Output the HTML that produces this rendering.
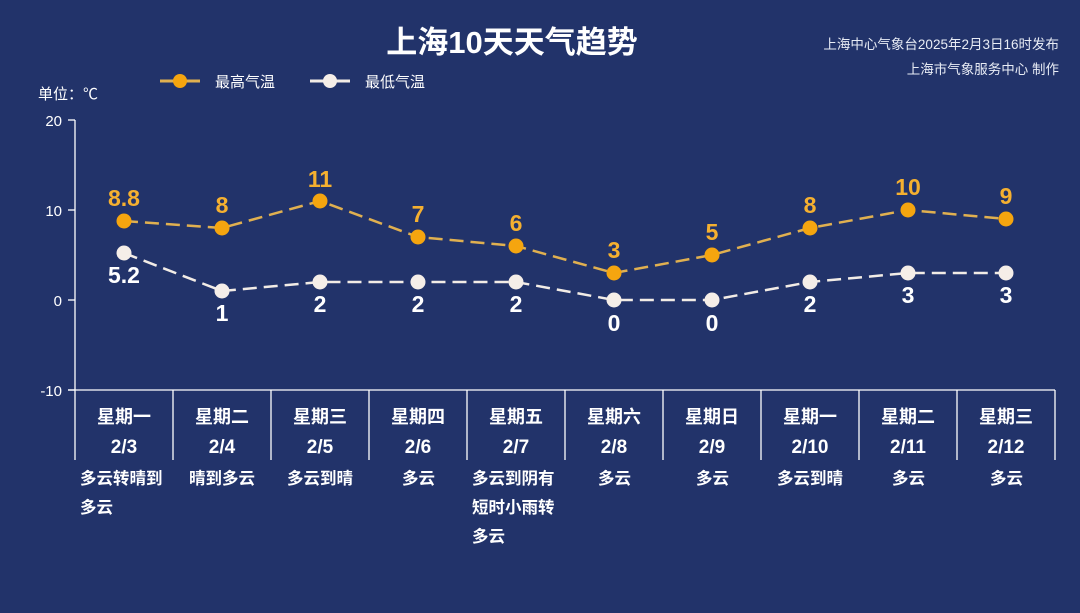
<!DOCTYPE html>
<html><head><meta charset="utf-8"><style>
html,body{margin:0;padding:0;background:#22336a;}
svg{display:block;font-family:"Liberation Sans","Noto Sans CJK SC",sans-serif;}
</style></head><body>
<svg width="1080" height="613" viewBox="0 0 1080 613">
<rect width="1080" height="613" fill="#22336a"/>
<text x="512" y="53" text-anchor="middle" fill="#fff" font-size="31" font-weight="bold">上海10天天气趋势</text>
<text x="1059" y="49" text-anchor="end" fill="#e8ecf5" font-size="13.5">上海中心气象台2025年2月3日16时发布</text>
<text x="1059" y="74" text-anchor="end" fill="#e8ecf5" font-size="13.5">上海市气象服务中心 制作</text>
<line x1="160" y1="81" x2="200" y2="81" stroke="#e0b050" stroke-width="3"/>
<circle cx="180" cy="81" r="7" fill="#f5a50f"/>
<text x="215" y="87" fill="#fff" font-size="15">最高气温</text>
<line x1="310" y1="81" x2="350" y2="81" stroke="#f2ece6" stroke-width="3"/>
<circle cx="330" cy="81" r="7" fill="#f5eee8"/>
<text x="365" y="87" fill="#fff" font-size="15">最低气温</text>
<text x="38" y="99" fill="#fff" font-size="15">单位：℃</text>
<g stroke="#fff" stroke-width="1.3">
<line x1="75" y1="120" x2="75" y2="390"/>
<line x1="68" y1="120" x2="75" y2="120"/><line x1="68" y1="210" x2="75" y2="210"/>
<line x1="68" y1="300" x2="75" y2="300"/><line x1="68" y1="390" x2="75" y2="390"/>
<line x1="68" y1="390" x2="1055" y2="390"/>
<line x1="75" y1="390" x2="75" y2="460"/><line x1="173" y1="390" x2="173" y2="460"/>
<line x1="271" y1="390" x2="271" y2="460"/><line x1="369" y1="390" x2="369" y2="460"/>
<line x1="467" y1="390" x2="467" y2="460"/><line x1="565" y1="390" x2="565" y2="460"/>
<line x1="663" y1="390" x2="663" y2="460"/><line x1="761" y1="390" x2="761" y2="460"/>
<line x1="859" y1="390" x2="859" y2="460"/><line x1="957" y1="390" x2="957" y2="460"/>
<line x1="1055" y1="390" x2="1055" y2="460"/>
</g>
<g fill="#fff" font-size="15" text-anchor="end">
<text x="62" y="126">20</text><text x="62" y="216">10</text><text x="62" y="306">0</text><text x="62" y="396">-10</text>
</g>
<polyline points="124,221 222,228 320,201 418,237 516,246 614,273 712,255 810,228 908,210 1006,219" fill="none" stroke="#e0b050" stroke-width="2.5" stroke-dasharray="14,7"/>
<polyline points="124,253 222,291 320,282 418,282 516,282 614,300 712,300 810,282 908,273 1006,273" fill="none" stroke="#f2ece6" stroke-width="2.5" stroke-dasharray="14,7"/>
<g fill="#f5a50f">
<circle cx="124" cy="221" r="7.5"/><circle cx="222" cy="228" r="7.5"/><circle cx="320" cy="201" r="7.5"/><circle cx="418" cy="237" r="7.5"/><circle cx="516" cy="246" r="7.5"/><circle cx="614" cy="273" r="7.5"/><circle cx="712" cy="255" r="7.5"/><circle cx="810" cy="228" r="7.5"/><circle cx="908" cy="210" r="7.5"/><circle cx="1006" cy="219" r="7.5"/>
</g>
<g fill="#f5eee8">
<circle cx="124" cy="253" r="7.5"/><circle cx="222" cy="291" r="7.5"/><circle cx="320" cy="282" r="7.5"/><circle cx="418" cy="282" r="7.5"/><circle cx="516" cy="282" r="7.5"/><circle cx="614" cy="300" r="7.5"/><circle cx="712" cy="300" r="7.5"/><circle cx="810" cy="282" r="7.5"/><circle cx="908" cy="273" r="7.5"/><circle cx="1006" cy="273" r="7.5"/>
</g>
<g fill="#f5b030" font-size="23" font-weight="bold" text-anchor="middle">
<text x="124" y="206">8.8</text><text x="222" y="213">8</text><text x="320" y="187">11</text><text x="418" y="222">7</text><text x="516" y="231">6</text><text x="614" y="258">3</text><text x="712" y="240">5</text><text x="810" y="213">8</text><text x="908" y="195">10</text><text x="1006" y="204">9</text>
</g>
<g fill="#fff" font-size="23" font-weight="bold" text-anchor="middle">
<text x="124" y="283">5.2</text><text x="222" y="321">1</text><text x="320" y="312">2</text><text x="418" y="312">2</text><text x="516" y="312">2</text><text x="614" y="331">0</text><text x="712" y="331">0</text><text x="810" y="312">2</text><text x="908" y="303">3</text><text x="1006" y="303">3</text>
</g>
<g fill="#fff" font-size="18" font-weight="bold" text-anchor="middle">
<text x="124" y="423">星期一</text><text x="222" y="423">星期二</text><text x="320" y="423">星期三</text><text x="418" y="423">星期四</text><text x="516" y="423">星期五</text><text x="614" y="423">星期六</text><text x="712" y="423">星期日</text><text x="810" y="423">星期一</text><text x="908" y="423">星期二</text><text x="1006" y="423">星期三</text>
</g>
<g fill="#fff" font-size="19" font-weight="bold" text-anchor="middle">
<text x="124" y="453">2/3</text><text x="222" y="453">2/4</text><text x="320" y="453">2/5</text><text x="418" y="453">2/6</text><text x="516" y="453">2/7</text><text x="614" y="453">2/8</text><text x="712" y="453">2/9</text><text x="810" y="453">2/10</text><text x="908" y="453">2/11</text><text x="1006" y="453">2/12</text>
</g>
<g fill="#fff" font-size="16.5" font-weight="bold">
<text x="80" y="484">多云转晴到</text><text x="80" y="513">多云</text>
<text x="189" y="484">晴到多云</text>
<text x="287" y="484">多云到晴</text>
<text x="402" y="484">多云</text>
<text x="472" y="484">多云到阴有</text><text x="472" y="513">短时小雨转</text><text x="472" y="542">多云</text>
<text x="598" y="484">多云</text>
<text x="696" y="484">多云</text>
<text x="777" y="484">多云到晴</text>
<text x="892" y="484">多云</text>
<text x="990" y="484">多云</text>
</g>
</svg>
</body></html>
